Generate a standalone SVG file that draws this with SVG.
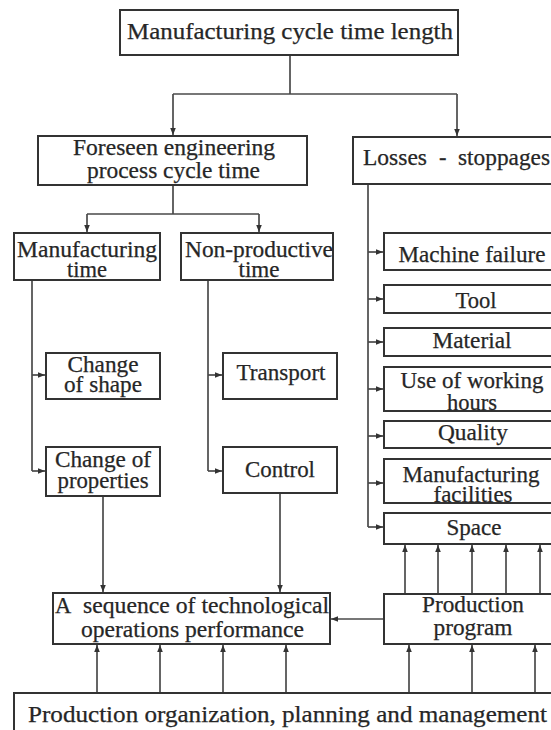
<svg xmlns="http://www.w3.org/2000/svg" width="551" height="730" viewBox="0 0 551 730">
<defs>
<style>
.box{fill:#fff;stroke:#333;stroke-width:2}
.ln{fill:none;stroke:#4a4a4a;stroke-width:1.7}
text{font-family:"Liberation Serif","Times New Roman",serif;font-size:22.5px;fill:#262626;stroke:#262626;stroke-width:0.25;text-anchor:middle}
</style>
<marker id="ah" viewBox="0 0 10 8" refX="10" refY="4" markerWidth="7" markerHeight="5.6" markerUnits="userSpaceOnUse" orient="auto">
<path d="M0,0 L10,4 L0,8 Z" fill="#333"/>
</marker>
</defs>
<rect width="551" height="730" fill="#fff"/>

<g id="connectors">
<path class="ln" d="M290,55 V94"/>
<path class="ln" d="M173,94 H457"/>
<path class="ln" d="M173,94 V135" marker-end="url(#ah)"/>
<path class="ln" d="M457,94 V136" marker-end="url(#ah)"/>
<path class="ln" d="M173,185 V214 M87,214 H259"/>
<path class="ln" d="M87,214 V232" marker-end="url(#ah)"/>
<path class="ln" d="M259,214 V232" marker-end="url(#ah)"/>
<path class="ln" d="M32,280 V471"/>
<path class="ln" d="M32,375 H45" marker-end="url(#ah)"/>
<path class="ln" d="M32,471 H45" marker-end="url(#ah)"/>
<path class="ln" d="M208,280 V471"/>
<path class="ln" d="M208,375 H222" marker-end="url(#ah)"/>
<path class="ln" d="M208,471 H222" marker-end="url(#ah)"/>
<path class="ln" d="M368,184 V527"/>
<path class="ln" d="M368,252 H383" marker-end="url(#ah)"/>
<path class="ln" d="M368,299 H383" marker-end="url(#ah)"/>
<path class="ln" d="M368,342 H383" marker-end="url(#ah)"/>
<path class="ln" d="M368,389 H383" marker-end="url(#ah)"/>
<path class="ln" d="M368,436 H383" marker-end="url(#ah)"/>
<path class="ln" d="M368,483 H383" marker-end="url(#ah)"/>
<path class="ln" d="M368,527 H383" marker-end="url(#ah)"/>
<path class="ln" d="M103,496 V592" marker-end="url(#ah)"/>
<path class="ln" d="M280,493 V592" marker-end="url(#ah)"/>
<path class="ln" d="M384,619 H331" marker-end="url(#ah)"/>
<path class="ln" d="M405,594 V545" marker-end="url(#ah)"/>
<path class="ln" d="M438,594 V545" marker-end="url(#ah)"/>
<path class="ln" d="M472,594 V545" marker-end="url(#ah)"/>
<path class="ln" d="M506,594 V545" marker-end="url(#ah)"/>
<path class="ln" d="M540,594 V545" marker-end="url(#ah)"/>
<path class="ln" d="M97,693 V645" marker-end="url(#ah)"/>
<path class="ln" d="M160,693 V645" marker-end="url(#ah)"/>
<path class="ln" d="M223,693 V645" marker-end="url(#ah)"/>
<path class="ln" d="M286,693 V645" marker-end="url(#ah)"/>
<path class="ln" d="M409,693 V645" marker-end="url(#ah)"/>
<path class="ln" d="M472,693 V645" marker-end="url(#ah)"/>
<path class="ln" d="M535,693 V645" marker-end="url(#ah)"/>
</g>

<g id="n-top">
<rect class="box" x="120" y="10" width="338" height="45"/>
<text x="290" y="39" textLength="326" lengthAdjust="spacingAndGlyphs">Manufacturing cycle time length</text>
</g>
<g id="n-foreseen">
<rect class="box" x="38" y="136" width="269" height="49"/>
<text x="174" y="155" textLength="202" lengthAdjust="spacingAndGlyphs">Foreseen engineering</text>
<text x="173.5" y="178" textLength="173" lengthAdjust="spacingAndGlyphs">process cycle time</text>
</g>
<g id="n-losses">
<rect class="box" x="353" y="137" width="210" height="47"/>
<text y="165" style="text-anchor:start"><tspan x="363" textLength="64" lengthAdjust="spacingAndGlyphs">Losses</tspan><tspan x="439">-</tspan><tspan x="458" textLength="92" lengthAdjust="spacingAndGlyphs">stoppages</tspan></text>
</g>
<g id="n-mtime">
<rect class="box" x="14" y="233" width="146" height="47"/>
<text x="87" y="257" textLength="140" lengthAdjust="spacingAndGlyphs">Manufacturing</text>
<text x="87" y="277" textLength="40" lengthAdjust="spacingAndGlyphs">time</text>
</g>
<g id="n-nptime">
<rect class="box" x="181" y="233" width="152" height="47"/>
<text x="259" y="257" textLength="148" lengthAdjust="spacingAndGlyphs">Non-productive</text>
<text x="259" y="277" textLength="41" lengthAdjust="spacingAndGlyphs">time</text>
</g>
<g id="n-shape">
<rect class="box" x="46" y="353" width="114" height="46"/>
<text x="103" y="372" textLength="71" lengthAdjust="spacingAndGlyphs">Change</text>
<text x="103" y="392" textLength="78" lengthAdjust="spacingAndGlyphs">of shape</text>
</g>
<g id="n-props">
<rect class="box" x="46" y="447" width="114" height="49"/>
<text x="103" y="467" textLength="96" lengthAdjust="spacingAndGlyphs">Change of</text>
<text x="103" y="488" textLength="91" lengthAdjust="spacingAndGlyphs">properties</text>
</g>
<g id="n-transport">
<rect class="box" x="223" y="353" width="114" height="46"/>
<text x="281" y="380" textLength="89" lengthAdjust="spacingAndGlyphs">Transport</text>
</g>
<g id="n-control">
<rect class="box" x="223" y="447" width="114" height="46"/>
<text x="280" y="477" textLength="70" lengthAdjust="spacingAndGlyphs">Control</text>
</g>
<g id="n-machine">
<rect class="box" x="384" y="233" width="180" height="37"/>
<text x="472" y="262" textLength="147" lengthAdjust="spacingAndGlyphs">Machine failure</text>
</g>
<g id="n-tool">
<rect class="box" x="384" y="285" width="180" height="28"/>
<text x="476" y="308" textLength="41" lengthAdjust="spacingAndGlyphs">Tool</text>
</g>
<g id="n-material">
<rect class="box" x="384" y="328" width="180" height="28"/>
<text x="472" y="348" textLength="79" lengthAdjust="spacingAndGlyphs">Material</text>
</g>
<g id="n-hours">
<rect class="box" x="384" y="367" width="180" height="44"/>
<text x="472" y="388" textLength="143" lengthAdjust="spacingAndGlyphs">Use of working</text>
<text x="472" y="410" textLength="50" lengthAdjust="spacingAndGlyphs">hours</text>
</g>
<g id="n-quality">
<rect class="box" x="384" y="421" width="180" height="27"/>
<text x="473" y="440" textLength="70" lengthAdjust="spacingAndGlyphs">Quality</text>
</g>
<g id="n-facilities">
<rect class="box" x="384" y="459" width="180" height="44"/>
<text x="471" y="482" textLength="137" lengthAdjust="spacingAndGlyphs">Manufacturing</text>
<text x="473" y="502" textLength="79" lengthAdjust="spacingAndGlyphs">facilities</text>
</g>
<g id="n-space">
<rect class="box" x="384" y="513" width="180" height="31"/>
<text x="474" y="535" textLength="55" lengthAdjust="spacingAndGlyphs">Space</text>
</g>
<g id="n-sequence">
<rect class="box" x="53" y="593" width="277" height="51"/>
<text y="613" style="text-anchor:start"><tspan x="55">A</tspan><tspan x="83" textLength="246" lengthAdjust="spacingAndGlyphs">sequence of technological</tspan></text>
<text x="192.5" y="637" textLength="223" lengthAdjust="spacingAndGlyphs">operations performance</text>
</g>
<g id="n-program">
<rect class="box" x="384" y="594" width="180" height="50"/>
<text x="473" y="612" textLength="102" lengthAdjust="spacingAndGlyphs">Production</text>
<text x="473" y="635" textLength="79" lengthAdjust="spacingAndGlyphs">program</text>
</g>
<g id="n-org">
<rect class="box" x="14" y="693" width="560" height="50"/>
<text x="287.5" y="722" textLength="519" lengthAdjust="spacingAndGlyphs">Production organization, planning and management</text>
</g>
</svg>
